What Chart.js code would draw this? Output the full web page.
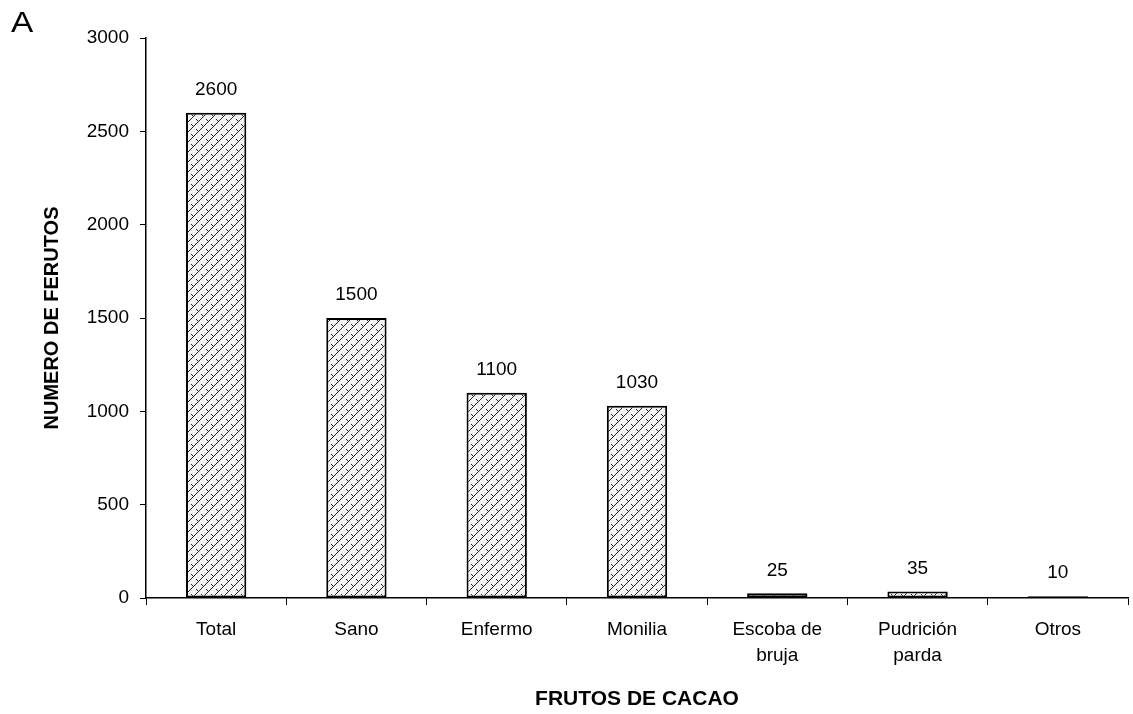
<!DOCTYPE html>
<html>
<head>
<meta charset="utf-8">
<script src="https://cdn.jsdelivr.net/npm/chart.js@4/dist/chart.umd.min.js"></script>
<style>
html,body{margin:0;padding:0;background:#fff;}
#wrap{position:relative;width:1133px;height:714px;}
#lbl{position:absolute;left:11px;top:6px;font:29px "Liberation Sans",Arial,sans-serif;color:#000;transform:scaleX(1.15);transform-origin:left top;}
</style>
</head>
<body>
<div id="wrap">
<canvas id="c" width="1133" height="714"></canvas>
<div id="lbl">A</div>
</div>
<script>
const categories = ['Total', 'Sano', 'Enfermo', 'Monilia', ['Escoba de', 'bruja'], ['Pudrición', 'parda'], 'Otros'];
const values = [2600, 1500, 1100, 1030, 25, 35, 10];
const yTicks = [0, 500, 1000, 1500, 2000, 2500, 3000];
const yTitle = 'NUMERO DE FERUTOS';
const xTitle = 'FRUTOS DE CACAO';

function makePattern() {
  const p = document.createElement('canvas');
  p.width = 10; p.height = 10;
  const g = p.getContext('2d');
  g.fillStyle = '#f2f2f2';
  g.fillRect(0, 0, 10, 10);
  g.strokeStyle = '#222';
  g.lineWidth = 1;
  g.beginPath();
  g.moveTo(-1, 11); g.lineTo(11, -1);
  g.moveTo(-6, 6); g.lineTo(6, -6);
  g.moveTo(4, 16); g.lineTo(16, 4);
  g.stroke();
  g.beginPath();
  g.moveTo(1, 4); g.lineTo(3, 6);
  g.moveTo(6, 9); g.lineTo(8, 11);
  g.moveTo(6, -1); g.lineTo(8, 1);
  g.stroke();
  return g.createPattern(p, 'repeat');
}

const FONT = '"Liberation Sans", Arial, sans-serif';

const valueLabels = {
  id: 'valueLabels',
  afterDatasetsDraw(chart) {
    const ctx = chart.ctx;
    const meta = chart.getDatasetMeta(0);
    ctx.save();
    ctx.font = '19px ' + FONT;
    ctx.fillStyle = '#000';
    ctx.textAlign = 'center';
    ctx.textBaseline = 'middle';
    meta.data.forEach((bar, i) => {
      ctx.fillText(String(values[i]), bar.x, bar.y - 23);
    });
    ctx.restore();
  }
};

new Chart(document.getElementById('c'), {
  type: 'bar',
  data: {
    labels: categories,
    datasets: [{
      data: values,
      backgroundColor: makePattern(),
      borderColor: '#000',
      borderWidth: 2,
      borderSkipped: false,
      categoryPercentage: 1,
      barPercentage: 0.43
    }]
  },
  options: {
    responsive: false,
    animation: false,
    devicePixelRatio: 1,
    layout: { padding: { left: 40, right: 5, top: 38, bottom: 2 } },
    plugins: { legend: { display: false }, tooltip: { enabled: false } },
    scales: {
      x: {
        offset: true,
        grid: { offset: true, drawOnChartArea: false, drawTicks: true, tickLength: 7, color: '#000', lineWidth: 1 },
        border: { display: true, color: '#000', width: 1.5 },
        ticks: { color: '#000', font: { family: FONT, size: 19, lineHeight: 1.37 }, padding: 12, maxRotation: 0, autoSkip: false },
        title: { display: true, text: xTitle, color: '#000', font: { family: FONT, size: 21, weight: 'bold' }, padding: { top: 14, bottom: 0 } },
        afterFit(s) { s.height = 714 - 598 - 2; }
      },
      y: {
        min: 0, max: 3000,
        afterBuildTicks(s) { s.ticks = yTicks.map(v => ({ value: v })); },
        grid: { drawOnChartArea: false, drawTicks: true, tickLength: 6, color: '#000' },
        border: { display: true, color: '#000', width: 1.5 },
        ticks: { color: '#000', font: { family: FONT, size: 19 }, padding: 11, callback: (v) => String(v) },
        title: { display: true, text: yTitle, color: '#000', font: { family: FONT, size: 20, weight: 'bold' }, padding: { top: 0, bottom: 22 } },
        afterFit(s) { s.width = 146 - 40; }
      }
    }
  },
  plugins: [valueLabels]
});
</script>
</body>
</html>
